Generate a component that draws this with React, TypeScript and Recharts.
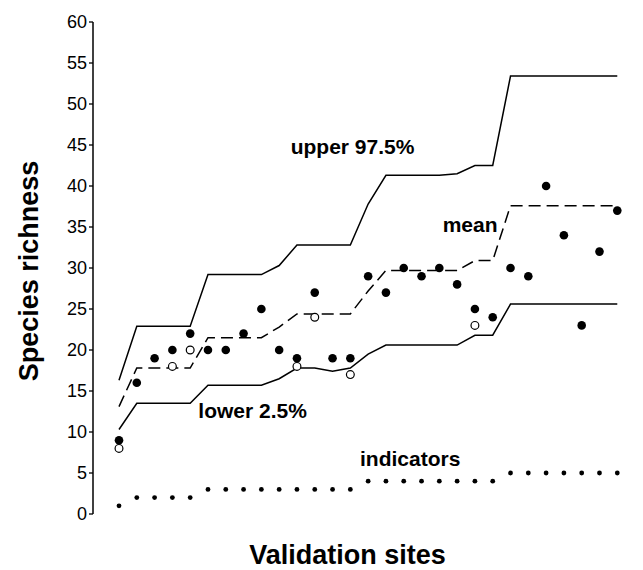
import React from 'react';
import { ComposedChart, Line, Scatter, XAxis, YAxis } from 'recharts';

const sites = [1, 2, 3, 4, 5, 6, 7, 8, 9, 10, 11, 12, 13, 14, 15, 16, 17, 18, 19, 20, 21, 22, 23, 24, 25, 26, 27, 28, 29];
const observed = [9, 16, 19, 20, 22, 20, 20, 22, 25, 20, 19, 27, 19, 19, 29, 27, 30, 29, 30, 28, 25, 24, 30, 29, 40, 34, 23, 32, 37];
const openSites = [1, 4, 5, 11, 12, 14, 21];
const openValues = [8, 18, 20, 18, 24, 17, 23];
const indicators = [1, 2, 2, 2, 2, 3, 3, 3, 3, 3, 3, 3, 3, 3, 4, 4, 4, 4, 4, 4, 4, 4, 5, 5, 5, 5, 5, 5, 5];
const upper = [16.3, 22.9, 22.9, 22.9, 22.9, 29.2, 29.2, 29.2, 29.2, 30.3, 32.8, 32.8, 32.8, 32.8, 37.8, 41.3, 41.3, 41.3, 41.3, 41.5, 42.5, 42.5, 53.4, 53.4, 53.4, 53.4, 53.4, 53.4, 53.4];
const mean = [13.1, 17.8, 17.8, 17.8, 17.8, 21.5, 21.5, 21.5, 21.5, 22.8, 24.4, 24.4, 24.4, 24.4, 27.2, 29.7, 29.7, 29.7, 29.7, 29.7, 30.9, 30.9, 37.6, 37.6, 37.6, 37.6, 37.6, 37.6, 37.6];
const lower = [10.3, 13.5, 13.5, 13.5, 13.5, 15.7, 15.7, 15.7, 15.7, 16.5, 17.8, 17.8, 17.4, 17.8, 19.5, 20.6, 20.6, 20.6, 20.6, 20.6, 21.8, 21.8, 25.6, 25.6, 25.6, 25.6, 25.6, 25.6, 25.6];
const yTicks = [0, 5, 10, 15, 20, 25, 30, 35, 40, 45, 50, 55, 60];

const lineData = sites.map((s, i) => ({ site: s, upper: upper[i], mean: mean[i], lower: lower[i] }));
const observedData = sites.map((s, i) => ({ site: s, v: observed[i] }));
const openData = openSites.map((s, i) => ({ site: s, v: openValues[i] }));
const indicatorData = sites.map((s, i) => ({ site: s, v: indicators[i] }));

const FONT = '"Liberation Sans", Arial, Helvetica, sans-serif';

const FilledDot = (p: any) => <circle cx={p.cx} cy={p.cy} r={4.3} fill="#000" />;
const OpenDot = (p: any) => <circle cx={p.cx} cy={p.cy} r={3.9} fill="#fff" stroke="#000" strokeWidth={1.2} />;
const SmallDot = (p: any) => <circle cx={p.cx} cy={p.cy} r={2.4} fill="#000" />;

export default function App() {
  return (
    <div style={{ position: 'absolute', left: 0, top: 0, width: 643, height: 570, background: '#fff' }}>
      <ComposedChart
        width={643}
        height={570}
        data={lineData}
        margin={{ top: 22, right: 0, bottom: 56, left: 0 }}
      >
        <XAxis
          dataKey="site"
          type="number"
          domain={[-0.461, 30.445]}
          allowDataOverflow
          tick={false}
          tickLine={false}
          height={0}
          axisLine={{ stroke: '#000', strokeWidth: 1.5 }}
        />
        <YAxis
          type="number"
          domain={[0, 60]}
          ticks={yTicks}
          interval={0}
          width={93}
          tickSize={4}
          tickMargin={2}
          axisLine={{ stroke: '#000', strokeWidth: 1.5 }}
          tickLine={{ stroke: '#000', strokeWidth: 1.3 }}
          tick={{ fill: '#000', fontSize: 18, fontFamily: FONT }}
        />
        <Line type="linear" dataKey="upper" stroke="#000" strokeWidth={1.5} dot={false} isAnimationActive={false} />
        <Line type="linear" dataKey="mean" stroke="#000" strokeWidth={1.5} strokeDasharray="12 6" dot={false} isAnimationActive={false} />
        <Line type="linear" dataKey="lower" stroke="#000" strokeWidth={1.5} dot={false} isAnimationActive={false} />
        <Scatter data={observedData} dataKey="v" shape={FilledDot} isAnimationActive={false} />
        <Scatter data={openData} dataKey="v" shape={OpenDot} isAnimationActive={false} />
        <Scatter data={indicatorData} dataKey="v" shape={SmallDot} isAnimationActive={false} />
      </ComposedChart>
      <svg
        width={643}
        height={570}
        style={{ position: 'absolute', left: 0, top: 0, pointerEvents: 'none' }}
      >
        <g fontFamily={FONT} fontWeight="bold" fill="#000">
          <text x={290.7} y={154.3} fontSize={21}>upper 97.5%</text>
          <text x={442.7} y={231.7} fontSize={21}>mean</text>
          <text x={198.3} y={418} fontSize={21}>lower 2.5%</text>
          <text x={360} y={466} fontSize={21}>indicators</text>
          <text x={347.5} y={564} fontSize={27} textAnchor="middle">Validation sites</text>
          <text x={38} y={271} fontSize={27} textAnchor="middle" transform="rotate(-90 38 271)">Species richness</text>
        </g>
      </svg>
    </div>
  );
}
